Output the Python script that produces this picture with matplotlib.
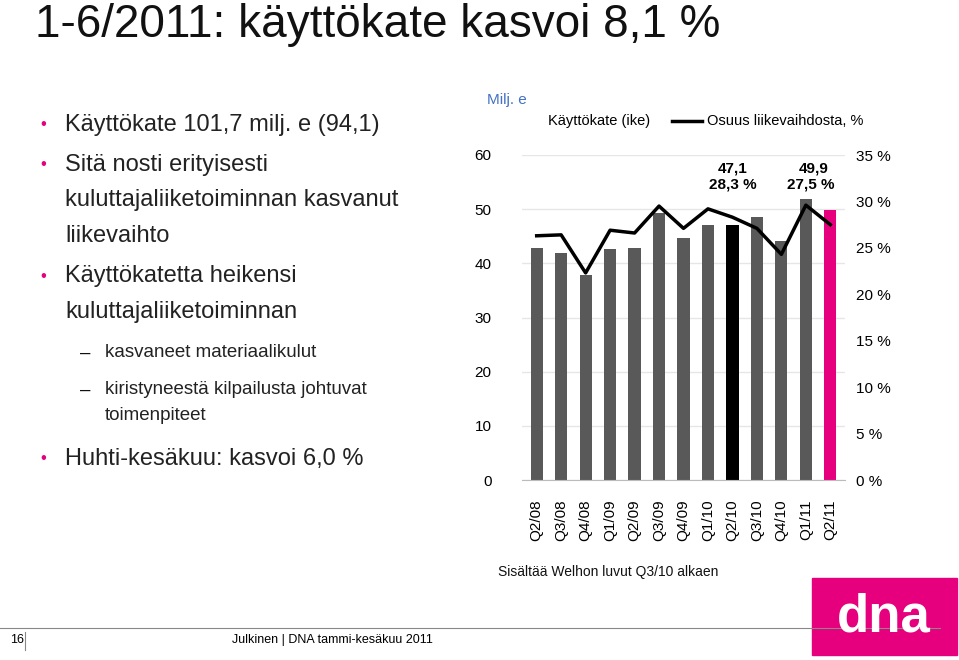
import matplotlib
matplotlib.use("Agg")
import matplotlib.pyplot as plt
from matplotlib.ticker import FuncFormatter

quarters = ["Q2/08","Q3/08","Q4/08","Q1/09","Q2/09","Q3/09","Q4/09","Q1/10","Q2/10","Q3/10","Q4/10","Q1/11","Q2/11"]
ebitda = [42.8, 42.0, 37.9, 42.6, 42.9, 49.2, 44.7, 47.0, 47.1, 48.6, 44.2, 51.8, 49.9]
margin = [26.3, 26.4, 22.3, 26.9, 26.6, 29.5, 27.1, 29.2, 28.3, 27.1, 24.3, 29.6, 27.5]
bar_colors = ["#595959"]*8 + ["#000000"] + ["#595959"]*3 + ["#e6007e"]

W, H = 959, 660
fig = plt.figure(figsize=(W/100, H/100), dpi=100)
plt.rcParams["font.family"] = "Liberation Sans"

def fx(x): return x / W
def fy(y): return 1 - y / H

fig.text(fx(35), fy(25), "1-6/2011: käyttökate kasvoi 8,1 %", fontsize=33, va="center", color="#111")
bul = [(40, 65, 125, "Käyttökate 101,7 milj. e (94,1)", 17, "•"),
       (40, 65, 165, "Sitä nosti erityisesti", 17, "•"),
       (None, 65, 200, "kuluttajaliiketoiminnan kasvanut", 17, None),
       (None, 65, 236, "liikevaihto", 17, None),
       (40, 65, 276, "Käyttökatetta heikensi", 17, "•"),
       (None, 65, 312, "kuluttajaliiketoiminnan", 17, None),
       (80, 105, 353, "kasvaneet materiaalikulut", 13.5, "–"),
       (80, 105, 390, "kiristyneestä kilpailusta johtuvat", 13.5, "–"),
       (None, 105, 416, "toimenpiteet", 13.5, None),
       (40, 65, 459, "Huhti-kesäkuu: kasvoi 6,0 %", 17, "•")]
for bx, tx, y, t, fs, sym in bul:
    if sym:
        fig.text(fx(bx), fy(y), sym, fontsize=fs if sym != "•" else 12, va="center", color="#e6007e" if sym=="•" else "#111")
    fig.text(fx(tx), fy(y), t, fontsize=fs, va="center", color="#222")

ax = fig.add_axes([fx(522), fy(480), fx(845-522), (480-155)/H])
x = range(len(quarters))
ax.bar(x, ebitda, width=0.5, color=bar_colors, zorder=2)
ax.set_ylim(0, 60)
ax.set_xlim(-0.6, 12.6)
ax.set_yticks(range(0, 61, 10))
ax.grid(axis="y", color="#e6e6e6", lw=1, zorder=0)
for s in ["top", "right", "left"]:
    ax.spines[s].set_visible(False)
ax.spines["bottom"].set_color("#bbb")
ax.tick_params(axis="y", length=0, labelsize=11, pad=22)
ax.set_xticks(list(x))
ax.set_xticklabels(quarters, rotation=90, fontsize=11)
ax.tick_params(axis="x", length=0, pad=14)

ax2 = ax.twinx()
ax2.plot(x, margin, color="black", lw=2.5, zorder=3)
ax2.set_ylim(0, 35)
ax2.set_yticks(range(0, 36, 5))
ax2.yaxis.set_major_formatter(FuncFormatter(lambda v, p: f"{int(v)} %"))
ax2.tick_params(axis="y", length=0, labelsize=11, pad=8)
for s in ["top", "right", "left", "bottom"]:
    ax2.spines[s].set_visible(False)

ax.text(8, 57.5, f"{ebitda[8]:.1f}".replace(".", ","), ha="center", va="center", fontsize=11, fontweight="bold")
ax.text(8, 54.5, f"{margin[8]:.1f} %".replace(".", ","), ha="center", va="center", fontsize=11, fontweight="bold")
ax.text(11.3, 57.5, f"{ebitda[12]:.1f}".replace(".", ","), ha="center", va="center", fontsize=11, fontweight="bold")
ax.text(11.2, 54.5, f"{margin[12]:.1f} %".replace(".", ","), ha="center", va="center", fontsize=11, fontweight="bold")

fig.text(fx(487), fy(100), "Milj. e", fontsize=11, color="#4472c4", va="center")
fig.text(fx(548), fy(121), "Käyttökate (ike)", fontsize=10.5, va="center")
fig.lines.append(plt.Line2D([fx(672), fx(702)], [fy(121), fy(121)], color="black", lw=2.5, transform=fig.transFigure))
fig.text(fx(707), fy(121), "Osuus liikevaihdosta, %", fontsize=10.5, va="center")
fig.text(fx(498), fy(572), "Sisältää Welhon luvut Q3/10 alkaen", fontsize=10, va="center", color="#111")

fig.lines.append(plt.Line2D([0, fx(940)], [fy(628), fy(628)], color="#888", lw=0.8, transform=fig.transFigure))
fig.text(fx(10), fy(640), "16", fontsize=9, va="center")
fig.lines.append(plt.Line2D([fx(25), fx(25)], [fy(632), fy(650)], color="#888", lw=0.8, transform=fig.transFigure))
fig.text(fx(232), fy(640), "Julkinen | DNA tammi-kesäkuu 2011", fontsize=9, va="center")

fig.patches.append(plt.Rectangle((fx(812), fy(655)), fx(145), 77/H, color="#e6007e", transform=fig.transFigure))
fig.text(fx(884), fy(617), "dna", fontsize=38, fontweight="bold", color="white", ha="center", va="center")

fig.savefig("out.png", dpi=100)
